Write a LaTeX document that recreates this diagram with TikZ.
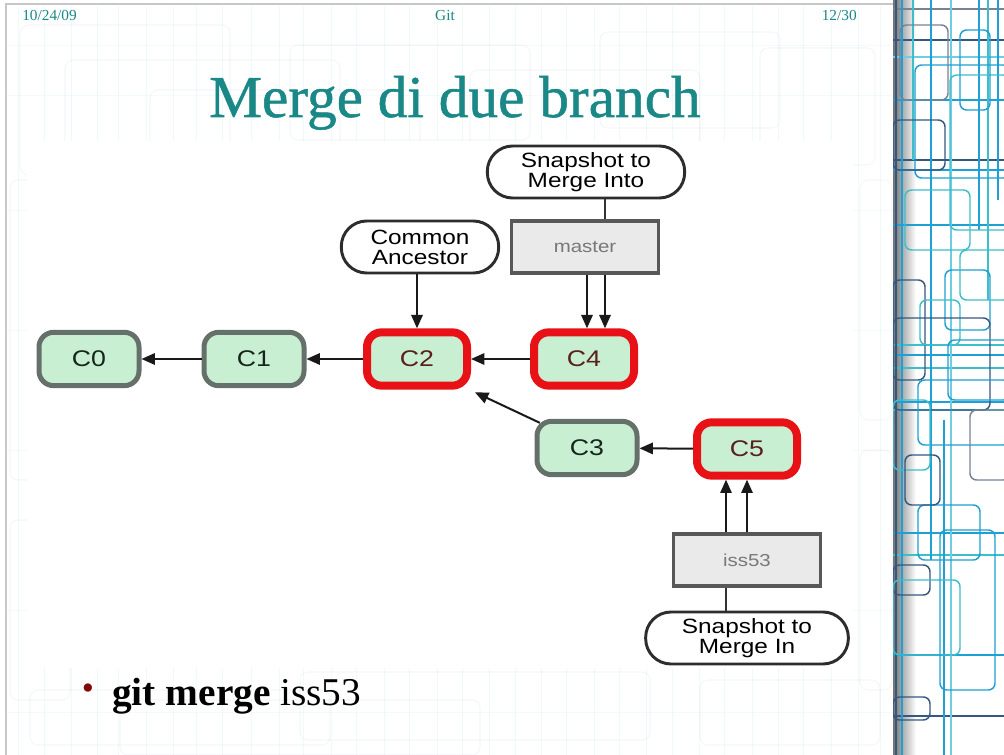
\documentclass[tikz,border=0pt]{standalone}
\usepackage{fontspec}
\setmainfont{Liberation Serif}
\newfontfamily\lblfont[FakeStretch=1.18]{Liberation Sans}
\newfontfamily\titlefont[FakeBold=0.9]{Liberation Serif}
\usetikzlibrary{arrows.meta}

\definecolor{teal1}{RGB}{27,136,136}
\definecolor{commitfill}{RGB}{201,239,211}
\definecolor{commitgrey}{RGB}{102,112,107}
\definecolor{commitink}{RGB}{22,38,28}
\definecolor{headred}{RGB}{232,18,22}
\definecolor{headink}{RGB}{90,32,26}
\definecolor{outline}{RGB}{45,45,45}
\definecolor{reffill}{RGB}{234,234,234}
\definecolor{refedge}{RGB}{88,88,88}
\definecolor{reftext}{RGB}{120,120,120}
\definecolor{bulletred}{RGB}{128,10,10}
\definecolor{wa}{RGB}{30,160,212}
\definecolor{wb}{RGB}{62,190,200}
\definecolor{wc}{RGB}{52,88,128}
\definecolor{wd}{RGB}{120,130,150}
\definecolor{we}{RGB}{110,205,225}

\begin{document}
\begin{tikzpicture}[x=0.75pt,y=-0.75pt,
  commit/.style={draw=commitgrey, fill=commitfill, line width=3.75pt,
    rounded corners=11pt, minimum width=75pt, minimum height=40pt,
    font=\lblfont\fontsize{17}{17}\selectfont, text=commitink},
  headcommit/.style={commit, draw=headred, line width=6pt, text=headink},
  callout/.style={draw=outline, fill=white, line width=2.2pt,
    rounded corners=19pt, minimum height=39pt, align=center, inner sep=2pt,
    font=\lblfont\fontsize{15.5}{15}\selectfont},
  refbox/.style={draw=refedge, fill=reffill, line width=2.3pt,
    minimum width=110pt, minimum height=39pt,
    font=\lblfont\fontsize{13}{13}\selectfont, text=reftext},
  link/.style={draw=black!90, line width=1.5pt, -{Triangle[length=10pt,width=8.5pt]}},
  tether/.style={draw=black!80, line width=1.5pt},
  wire/.style={line width=1.1pt, rounded corners=5pt},
  faint/.style={line width=0.8pt, rounded corners=6pt, draw=wd, opacity=0.07},
  header/.style={text=teal1, font=\fontsize{11.5}{12}\selectfont, inner sep=0pt}]

\useasboundingbox (0,0) rectangle (1004,755);
\fill[white] (0,0) rectangle (1004,755);

% faint circuit pattern behind the slide
\foreach \xx in {18,44,71,97,118,146,173,196,222,251,279,303,331,356,384,409,437,462,489,515,541,566,594,619,646,672,699,724,752,778,803,831,858,880}
  \draw[draw=we, line width=0.6pt, opacity=0.1] (\xx,6) -- (\xx,755);
\foreach \a/\b/\c/\d in {20/25/230/175, 65/60/340/172, 290/45/530/140, 470/70/700/155, 600/32/780/128, 760/48/875/165, 150/90/420/160, 10/180/60/480, 10/520/70/700, 30/690/330/745, 300/672/650/740, 700/680/880/745, 120/700/480/755, 860/180/892/420, 860/450/892/690}
  \draw[faint] (\a,\b) rectangle (\c,\d);
\foreach \yy in {45,95,210,330,450,610,712}
  \draw[draw=we, line width=0.6pt, opacity=0.08] (6,\yy) -- (893,\yy);

% slide edge
\draw[black!22, line width=1pt] (6,755) -- (6,4) -- (893,4);

% decorated right strip
\begin{scope}
  \clip (893,0) rectangle (1004,755);
  \shade[left color=black!55, right color=white] (893,0) rectangle (916,755);
  \foreach \yy/\cc in {9/wd, 40/wc, 57/we, 100/wa, 160/wc, 170/wa, 225/wa, 345/wb, 355/wa, 368/wb, 402/wa, 410/wb, 533/wa, 555/wb, 655/wa, 716/wc}
    \draw[\cc, line width=1.1pt] (893,\yy) -- (1004,\yy);
  \foreach \xx/\cc/\ya/\yb in {896/wc/0/755, 902/wa/0/755, 931/wa/0/560, 951/we/0/755, 979/wa/0/230, 988/wb/0/300, 998/wa/0/200, 913/wb/0/160, 944/wa/420/755}
    \draw[\cc, line width=1.1pt] (\xx,\ya) -- (\xx,\yb);
  \foreach \a/\b/\c/\d/\cc in {900/25/948/100/wd, 915/65/1010/178/wa, 950/75/1010/230/wb, 893/120/945/170/wc, 960/30/990/110/wa, 905/190/970/250/wb, 945/270/990/330/wa, 893/280/925/380/wc, 920/300/960/345/wb, 893/318/990/410/wc, 948/340/1010/400/wa, 918/380/1010/445/wa, 893/400/930/470/wb, 970/410/1010/480/wd, 918/505/980/560/wa, 893/565/930/595/wc, 893/580/960/655/wb, 893/697/930/720/wc, 940/530/995/690/wa, 905/455/940/505/wc, 960/250/1010/300/wb}
    \draw[wire, \cc] (\a,\b) rectangle (\c,\d);
\end{scope}

% header line
\node[header, anchor=base west] (date) at (22,21) {10/24/09};
\node[header, anchor=base] (topic) at (445,21) {Git};
\node[header, anchor=base east] (page) at (857,21) {12/30};

% title
\node[text=teal1, anchor=base, inner sep=0pt, font=\titlefont\fontsize{44.5}{44.5}\selectfont] (title) at (455,117) {Merge di due branch};

% picture area
\fill[white] (27,141) rectangle (853,668);

% commits
\node[commit] (C0) at (89,359) {C0};
\node[commit] (C1) at (254,359) {C1};
\node[headcommit] (C2) at (417,359) {C2};
\node[headcommit] (C4) at (584,359) {C4};
\node[commit] (C3) at (587,448) {C3};
\node[headcommit] (C5) at (747,449) {C5};

% labels and branch pointers
\node[callout, minimum width=118pt] (anc) at (420,247) {Common\\Ancestor};
\node[callout, minimum width=148pt] (into) at (586,172) {Snapshot to\\Merge Into};
\node[refbox] (master) at (585,247) {master};
\node[refbox] (iss) at (747,560) {iss53};
\node[callout, minimum width=152pt] (in) at (747,638) {Snapshot to\\Merge In};

% history arrows
\draw[link] (C1) -- (C0);
\draw[link] (C2) -- (C1);
\draw[link] (C4) -- (C2);
\draw[link] (C5) -- (C3);
\draw[link] ([xshift=4pt,yshift=-3pt]C3.north west) -- ([xshift=3pt,yshift=-2pt]C2.south east);

% pointer arrows
\draw[link] (anc.south -| C2.north) -- (C2.north);
\draw[link] (master.south -| 587,0) -- (C4.north -| 587,0);
\draw[tether] (into.south -| 605,0) -- (master.north -| 605,0);
\draw[link] (master.south -| 605,0) -- (C4.north -| 605,0);
\draw[link] (iss.north -| 747,0) -- (C5.south -| 747,0);
\draw[tether] (in.north -| 726,0) -- (iss.south -| 726,0);
\draw[link] (iss.north -| 726,0) -- (C5.south -| 726,0);

% bullet
\node[text=bulletred, inner sep=0pt, font=\fontsize{26}{26}\selectfont] (dot) at (88,692) {\textbullet};
\node[anchor=base west, inner sep=0pt, font=\fontsize{29.5}{29.5}\selectfont] (cmd) at (112,705) {\textbf{git merge} iss53};
\end{tikzpicture}
\end{document}
